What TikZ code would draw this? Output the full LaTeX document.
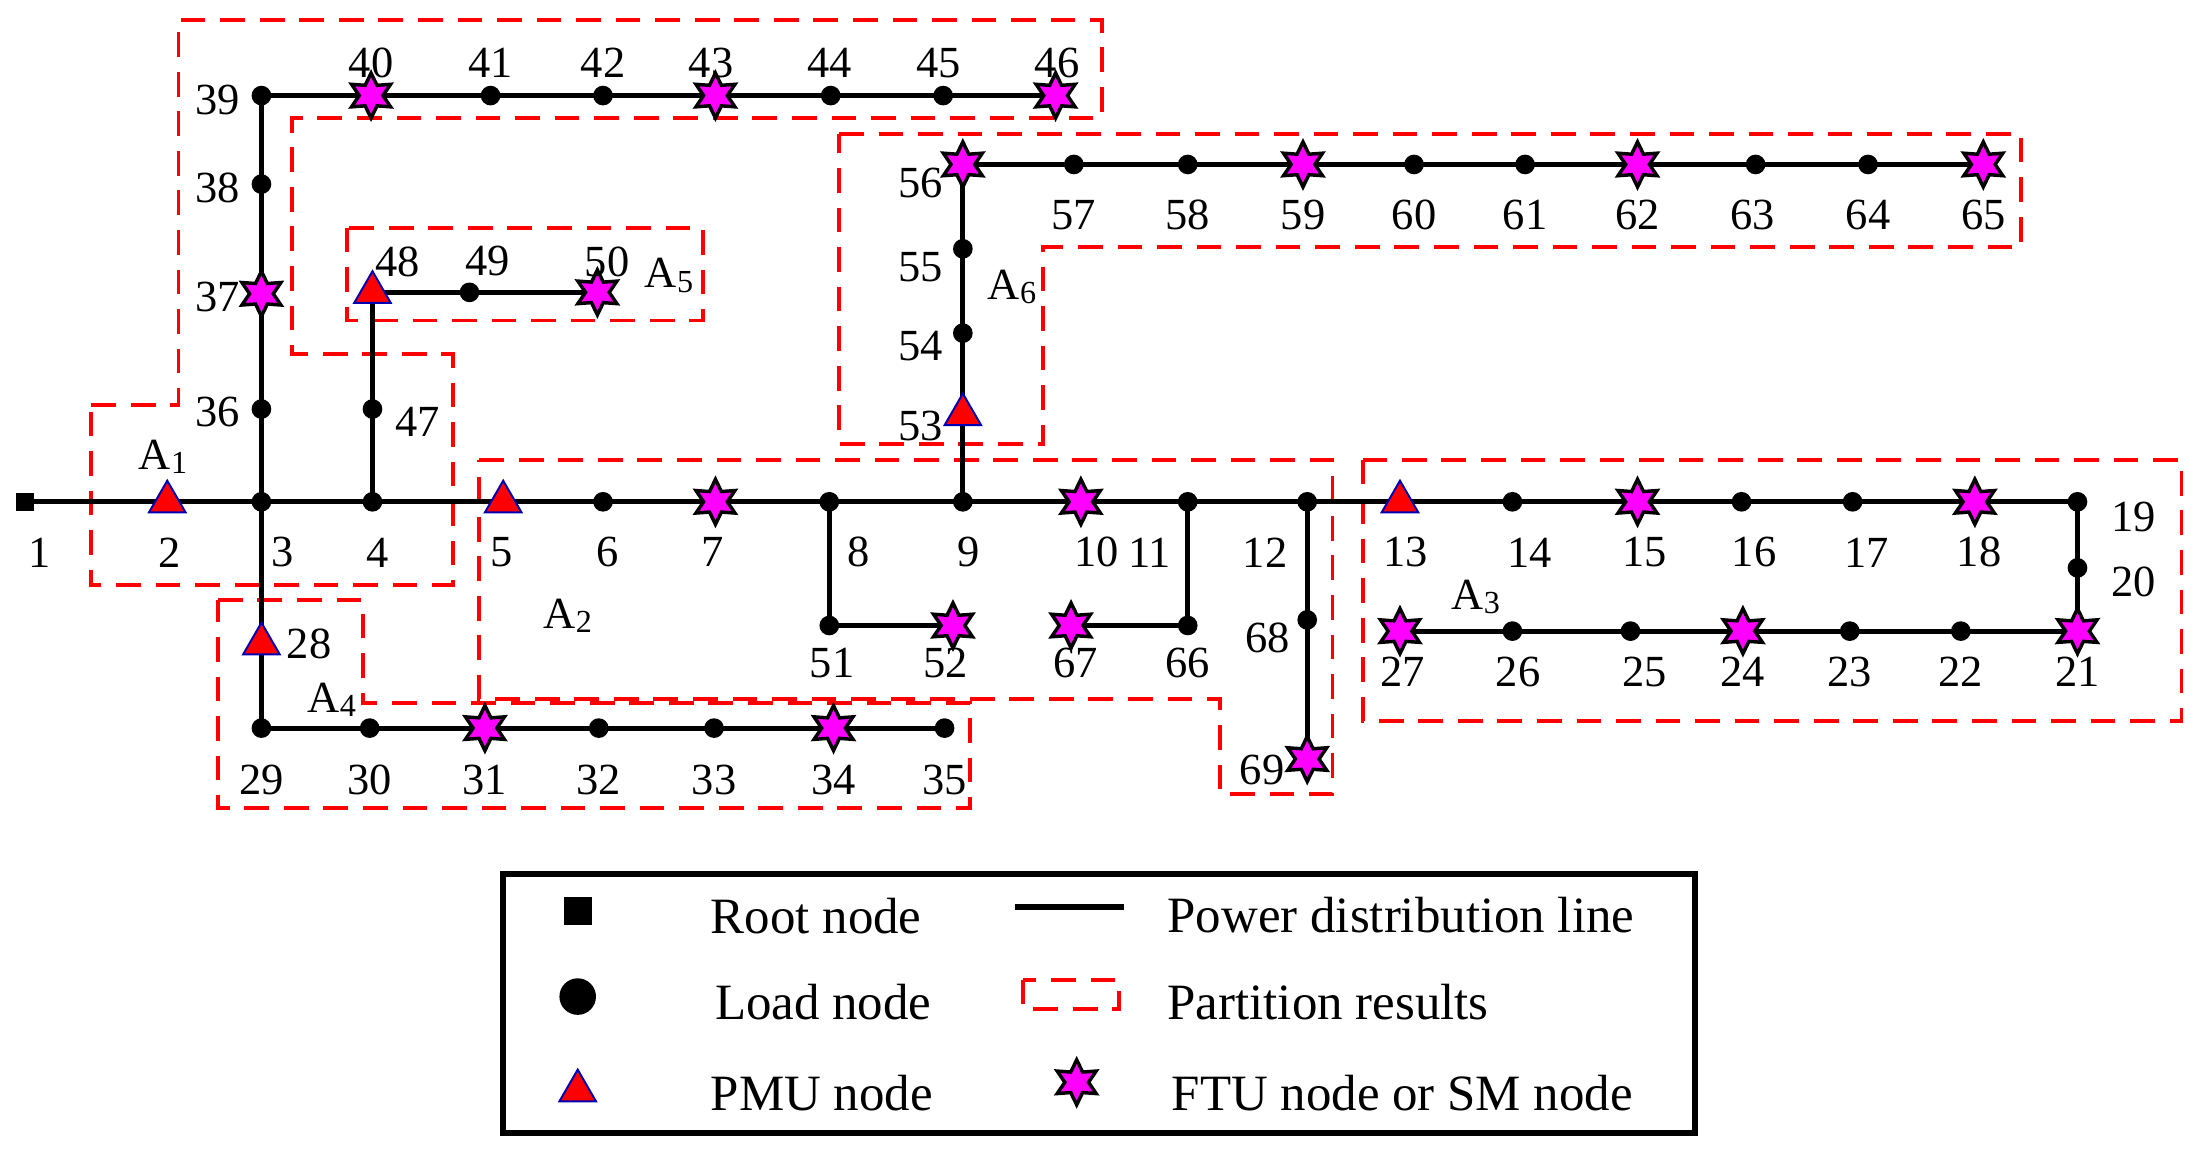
\documentclass[tikz,border=0pt]{standalone}
\usepackage{fontspec}
\setmainfont{Liberation Serif}
\usetikzlibrary{shapes.geometric}
\definecolor{mg}{RGB}{255,0,255}
\begin{document}
\begin{tikzpicture}[x=0.01cm,y=-0.01cm,
 line/.style={line width=1pt},
 ld/.style={circle,fill=black,inner sep=0pt,minimum size=0.14cm},
 st/.style={star,star points=6,star point ratio=1.9,fill=mg,draw=black,line width=0.7pt,inner sep=0pt,minimum size=0.32cm},
 pm/.style={regular polygon,regular polygon sides=3,fill=red,draw=blue!70!black,line width=0.4pt,inner sep=0pt,minimum size=0.3cm},
 rt/.style={rectangle,fill=black,inner sep=0pt,minimum size=0.13cm},
 part/.style={draw=red,dashed,line width=0.8pt,dash pattern=on 5pt off 3pt},
 lb/.style={font=\fontsize{9}{10}\selectfont,inner sep=0pt},
 lg/.style={font=\fontsize{10.3}{11}\selectfont,inner sep=0pt,anchor=west}]
\useasboundingbox (0,0) rectangle (1568,818);
\newcommand{\Asub}[1]{A\raisebox{-0.2ex}{\fontsize{6.5}{6.5}\selectfont #1}}
% partitions
\draw[part] (65,288)--(127,288)--(127,14)--(784,14)--(784,84)--(208,84)--(208,252)--(322,252)--(322,416)--(65,416)--cycle;
\draw[part] (247,162) rectangle (500,228);
\draw[part] (597,95)--(1438,95)--(1438,176)--(742,176)--(742,316)--(597,316)--cycle;
\draw[part] (341,327)--(948,327)--(948,565)--(868,565)--(868,497)--(341,497)--cycle;
\draw[part] (155,427)--(258,427)--(258,500)--(690,500)--(690,575)--(155,575)--cycle;
\draw[part] (970,327) rectangle (1552,513);
% nodes
\foreach \n/\x/\y/\s in {1/18/357/rt,2/119/357/pm,3/186/357/ld,4/265/357/ld,5/358/357/pm,6/429/357/ld,7/509/357/st,8/590/357/ld,9/685/357/ld,10/769/357/st,11/845/357/ld,12/930/357/ld,13/996/357/pm,14/1076/357/ld,15/1165/357/st,16/1239/357/ld,17/1318/357/ld,18/1405/357/st,19/1478/357/ld,20/1478/404/ld,21/1478/449/st,22/1395/449/ld,23/1316/449/ld,24/1240/449/st,25/1160/449/ld,26/1076/449/ld,27/996/449/st,36/186/291/ld,37/186/209/st,38/186/131/ld,39/186/68/ld,40/264/68/st,41/349/68/ld,42/429/68/ld,43/509/68/st,44/591/68/ld,45/671/68/ld,46/751/68/st,47/265/291/ld,48/265/208/pm,49/334/208/ld,50/425/208/st,53/685/295/pm,54/685/237/ld,55/685/177/ld,56/685/117/st,57/764/117/ld,58/845/117/ld,59/927/117/st,60/1006/117/ld,61/1085/117/ld,62/1165/117/st,63/1249/117/ld,64/1329/117/ld,65/1411/117/st,51/590/445/ld,52/678/445/st,66/845/445/ld,67/762/445/st,68/930/441/ld,69/930/540/st,28/186/458/pm,29/186/518/ld,30/263/518/ld,31/345/518/st,32/426/518/ld,33/508/518/ld,34/593/518/st,35/672/518/ld}
  \coordinate (c\n) at (\x,\y);
\begin{scope}[line]
\draw (c1)--(c2)--(c3)--(c4)--(c5)--(c6)--(c7)--(c8)--(c9)--(c10)--(c11)--(c12)--(c13)--(c14)--(c15)--(c16)--(c17)--(c18)--(c19)--(c20)--(c21)--(c22)--(c23)--(c24)--(c25)--(c26)--(c27);
\draw (c3)--(c36)--(c37)--(c38)--(c39)--(c40)--(c41)--(c42)--(c43)--(c44)--(c45)--(c46);
\draw (c4)--(c47)--(c48)--(c49)--(c50);
\draw (c9)--(c53)--(c54)--(c55)--(c56)--(c57)--(c58)--(c59)--(c60)--(c61)--(c62)--(c63)--(c64)--(c65);
\draw (c8)--(c51)--(c52); \draw (c11)--(c66)--(c67); \draw (c12)--(c68)--(c69);
\draw (c3)--(c28)--(c29)--(c30)--(c31)--(c32)--(c33)--(c34)--(c35);
\end{scope}
\foreach \n/\x/\y/\s in {1/18/357/rt,2/119/357/pm,3/186/357/ld,4/265/357/ld,5/358/357/pm,6/429/357/ld,7/509/357/st,8/590/357/ld,9/685/357/ld,10/769/357/st,11/845/357/ld,12/930/357/ld,13/996/357/pm,14/1076/357/ld,15/1165/357/st,16/1239/357/ld,17/1318/357/ld,18/1405/357/st,19/1478/357/ld,20/1478/404/ld,21/1478/449/st,22/1395/449/ld,23/1316/449/ld,24/1240/449/st,25/1160/449/ld,26/1076/449/ld,27/996/449/st,36/186/291/ld,37/186/209/st,38/186/131/ld,39/186/68/ld,40/264/68/st,41/349/68/ld,42/429/68/ld,43/509/68/st,44/591/68/ld,45/671/68/ld,46/751/68/st,47/265/291/ld,48/265/208/pm,49/334/208/ld,50/425/208/st,53/685/295/pm,54/685/237/ld,55/685/177/ld,56/685/117/st,57/764/117/ld,58/845/117/ld,59/927/117/st,60/1006/117/ld,61/1085/117/ld,62/1165/117/st,63/1249/117/ld,64/1329/117/ld,65/1411/117/st,51/590/445/ld,52/678/445/st,66/845/445/ld,67/762/445/st,68/930/441/ld,69/930/540/st,28/186/458/pm,29/186/518/ld,30/263/518/ld,31/345/518/st,32/426/518/ld,33/508/518/ld,34/593/518/st,35/672/518/ld}
  \node[\s] (n\n) at (c\n) {};
% labels
\foreach \t/\x/\y in {1/28/393,2/121/393,3/201/393,4/269/393,5/357/393,6/432/393,7/507/393,8/611/393,9/689/393,10/780/393,11/818/393,12/900/393,13/1000/393,14/1088/393,15/1170/393,16/1248/393,17/1328/393,18/1408/393,19/1518/368,20/1518/414,21/1478/478,22/1395/478,23/1316/478,24/1240/478,25/1170/478,26/1080/478,27/998/478,36/155/293,37/155/211,38/155/134,39/155/71,40/264/45,41/349/45,42/429/45,43/506/45,44/590/45,45/668/45,46/752/45,47/297/300,48/283/186,49/347/186,50/432/186,53/655/303,54/655/246,55/655/190,56/655/130,57/764/153,58/845/153,59/927/153,60/1006/153,61/1085/153,62/1165/153,63/1247/153,64/1329/153,65/1411/153,51/592/472,52/673/472,66/845/472,67/765/472,68/902/454,69/898/548,28/220/458,29/186/555,30/263/555,31/345/555,32/426/555,33/508/555,34/593/555,35/672/555}
  \node[lb] (l\t) at (\x,\y) {\t};
\node[lb] (a1) at (116,325) {\Asub{1}};
\node[lb] (a2) at (404,438) {\Asub{2}};
\node[lb] (a3) at (1050,425) {\Asub{3}};
\node[lb] (a4) at (236,498) {\Asub{4}};
\node[lb] (a5) at (476,196) {\Asub{5}};
\node[lb] (a6) at (720,204) {\Asub{6}};
% legend
\draw[line width=1.2pt] (358,622) rectangle (1206,806);
\node[rt,minimum size=0.2cm] (k1) at (411,648) {};
\node[ld,minimum size=0.26cm] (k2) at (411,709) {};
\node[pm] (k3) at (411,776) {};
\coordinate (k4a) at (722,645); \coordinate (k4b) at (800,645);
\draw[line width=1.2pt] (k4a)--(k4b);
\draw[part] (728,697) rectangle (796,718);
\node[st] (k6) at (766,770) {};
\node[lg] (t1) at (505,652) {Root node};
\node[lg] (t2) at (508,713) {Load node};
\node[lg] (t3) at (505,778) {PMU node};
\node[lg] (t4) at (830,651) {Power distribution line};
\node[lg] (t5) at (830,713) {Partition results};
\node[lg] (t6) at (833,778) {FTU node or SM node};
\end{tikzpicture}
\end{document}
